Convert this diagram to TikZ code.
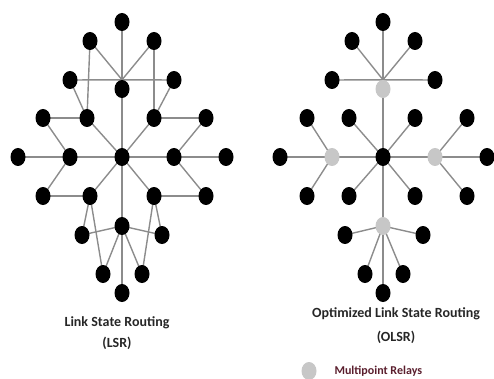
\documentclass[tikz,border=0pt]{standalone}
\usepackage{fontspec}
\setmainfont{Carlito}
\usetikzlibrary{shapes.geometric,backgrounds}
\begin{document}
\begin{tikzpicture}[x=1pt,y=-1pt,
  nd/.style={ellipse,fill=black,minimum width=15pt,minimum height=18pt,inner sep=0pt},
  mpr/.style={ellipse,fill=black!22,minimum width=15pt,minimum height=18pt,inner sep=0pt},
  ln/.style={draw=black!45,line width=1.4pt},
  capt/.style={text=black!85,align=center}]
\useasboundingbox (0,0) rectangle (494,379);
% ---------- LSR ----------
\node[nd] (a1) at (122,22) {};
\node[nd] (a2) at (90,41) {};
\node[nd] (a3) at (154,41) {};
\node[nd] (a4) at (70,80) {};
\node[nd] (a5) at (122,89) {};
\node[nd] (a6) at (174,80) {};
\node[nd] (a7) at (43,118) {};
\node[nd] (a8) at (87,118) {};
\node[nd] (a9) at (154,118) {};
\node[nd] (a10) at (206,118) {};
\node[nd] (a11) at (18,157) {};
\node[nd] (a12) at (70,157) {};
\node[nd] (a13) at (122,157) {};
\node[nd] (a14) at (174,157) {};
\node[nd] (a15) at (226,157) {};
\node[nd] (a16) at (43,196) {};
\node[nd] (a17) at (90,196) {};
\node[nd] (a18) at (154,196) {};
\node[nd] (a19) at (206,196) {};
\node[nd] (a20) at (82,235) {};
\node[nd] (a21) at (122,226) {};
\node[nd] (a22) at (162,235) {};
\node[nd] (a23) at (103,274) {};
\node[nd] (a24) at (142,274) {};
\node[nd] (a25) at (122,293) {};
\node[capt,font=\fontsize{14}{21}\selectfont\bfseries] (lsr) at (117,333) {Link State Routing\\(LSR)};
% ---------- OLSR ----------
\node[nd] (b1) at (383,22) {};
\node[nd] (b2) at (352,41) {};
\node[nd] (b3) at (415,41) {};
\node[nd] (b4) at (332,80) {};
\node[mpr] (b5) at (383,89) {};
\node[nd] (b6) at (435,80) {};
\node[nd] (b7) at (307,118) {};
\node[nd] (b8) at (349,118) {};
\node[nd] (b9) at (415,118) {};
\node[nd] (b10) at (467,118) {};
\node[nd] (b11) at (280,157) {};
\node[mpr] (b12) at (332,157) {};
\node[nd] (b13) at (383,157) {};
\node[mpr] (b14) at (435,157) {};
\node[nd] (b15) at (487,157) {};
\node[nd] (b16) at (307,196) {};
\node[nd] (b17) at (349,196) {};
\node[nd] (b18) at (415,196) {};
\node[nd] (b19) at (467,196) {};
\node[nd] (b20) at (345,235) {};
\node[mpr] (b21) at (383,226) {};
\node[nd] (b22) at (423,235) {};
\node[nd] (b23) at (365,274) {};
\node[nd] (b24) at (403,274) {};
\node[nd] (b25) at (383,293) {};
\node[capt,font=\fontsize{14}{24}\selectfont\bfseries] (olsr) at (396,326) {Optimized Link State Routing\\(OLSR)};
\node[mpr] (leg) at (309,371) {};
\node[anchor=west,font=\fontsize{12}{14}\selectfont\bfseries,text={rgb,255:red,90;green,30;blue,45}] (legt) at (331,371) {Multipoint Relays};
% ---------- edges (behind nodes) ----------
\begin{scope}[on background layer]
% LSR
\draw[ln] (a1.center) -- (a25.center);
\draw[ln] (a11.center) -- (a15.center);
\draw[ln] (a2.center) -- (a5.north) -- (a3.center);
\draw[ln] (a4.center) -- (a5.north) -- (a6.center);
\draw[ln] (a2.center) -- (a8.center);
\draw[ln] (a3.center) -- (a9.center);
\draw[ln] (a4.center) -- (a8.center);
\draw[ln] (a6.center) -- (a9.center);
\draw[ln] (a7.center) -- (a8.center);
\draw[ln] (a9.center) -- (a10.center);
\draw[ln] (a7.center) -- (a12.center);
\draw[ln] (a10.center) -- (a14.center);
\draw[ln] (a8.center) -- (a13.center);
\draw[ln] (a9.center) -- (a13.center);
\draw[ln] (a17.center) -- (a13.center);
\draw[ln] (a18.center) -- (a13.center);
\draw[ln] (a16.center) -- (a12.center);
\draw[ln] (a16.center) -- (a17.center);
\draw[ln] (a19.center) -- (a14.center);
\draw[ln] (a19.center) -- (a18.center);
\draw[ln] (a17.center) -- (a20.center);
\draw[ln] (a17.center) -- (a23.center);
\draw[ln] (a18.center) -- (a22.center);
\draw[ln] (a18.center) -- (a24.center);
\draw[ln] (a20.center) -- (a21.center) -- (a22.center);
\draw[ln] (a21.center) -- (a23.center);
\draw[ln] (a21.center) -- (a24.center);
% OLSR
\draw[ln] (b1.center) -- (b25.center);
\draw[ln] (b11.center) -- (b15.center);
\draw[ln] (b2.center) -- (b5.north) -- (b3.center);
\draw[ln] (b4.center) -- (b5.north) -- (b6.center);
\draw[ln] (b7.center) -- (b12.center) -- (b16.center);
\draw[ln] (b10.center) -- (b14.center) -- (b19.center);
\draw[ln] (b8.center) -- (b13.center) -- (b18.center);
\draw[ln] (b9.center) -- (b13.center) -- (b17.center);
\draw[ln] (b20.center) -- (b21.center) -- (b22.center);
\draw[ln] (b21.center) -- (b23.center);
\draw[ln] (b21.center) -- (b24.center);
\end{scope}
\end{tikzpicture}
\end{document}
